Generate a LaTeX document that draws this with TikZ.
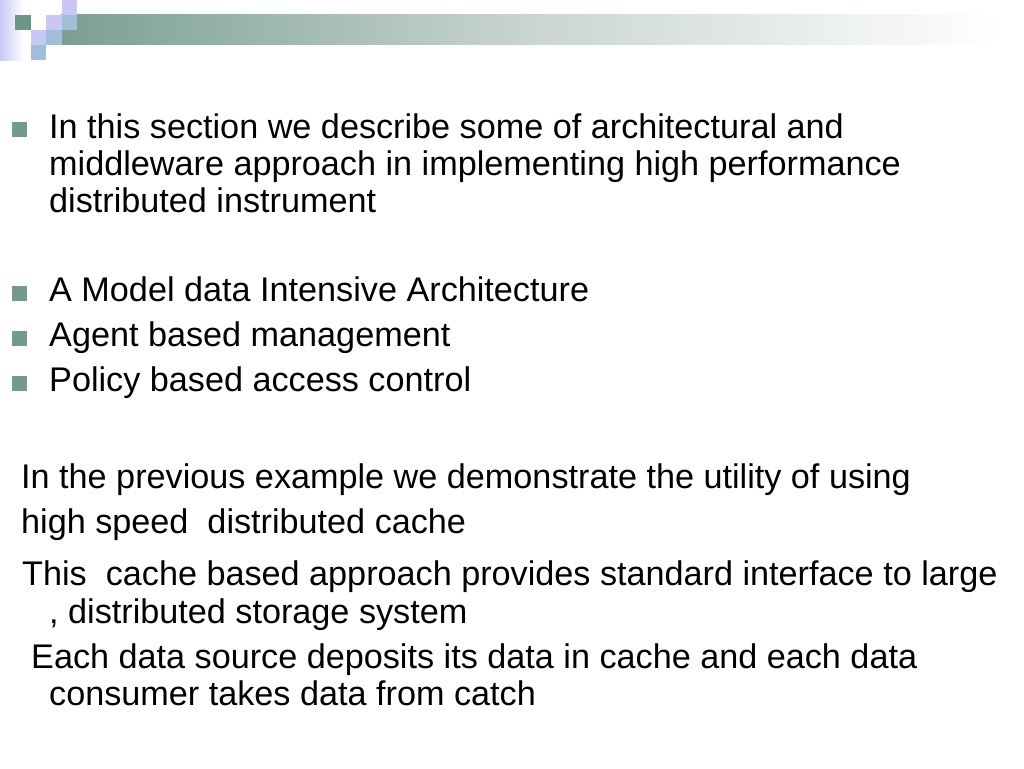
\documentclass[tikz,border=0pt]{standalone}
\usepackage{fontspec}
\setmainfont{Liberation Sans}
\definecolor{lav}{RGB}{200,200,245}
\definecolor{dgreen}{RGB}{110,150,135}
\definecolor{bgray}{RGB}{160,190,215}
\definecolor{barA}{RGB}{122,160,146}
\definecolor{barB}{RGB}{200,212,206}
\definecolor{bul}{RGB}{115,155,140}
\tikzset{
  txt/.style={anchor=base west, inner sep=0pt, font=\fontsize{34.2}{37}\selectfont},
  bulletsq/.style={fill=bul, draw=none}
}
\begin{document}
\begin{tikzpicture}[x=1pt,y=-1pt]
\useasboundingbox (0,0) rectangle (1024,768);
\fill[white] (0,0) rectangle (1024,768);
% decoration
\shade[left color=lav, right color=white, draw=none] (0,0) rectangle (24,60);
\shade[left color=barA, right color=barB, draw=none] (61,15) rectangle (521,45);
\shade[left color=barB, right color=white, draw=none] (520,15) rectangle (1000,45);
\fill[dgreen] (15,15) rectangle (31,30);
\fill[lav] (62,0) rectangle (77,15);
\fill[lav] (46,15) rectangle (62,30);
\fill[bgray] (62,15) rectangle (77,30);
\fill[lav] (31,30) rectangle (46,45);
\fill[bgray] (46,30) rectangle (62,45);
\fill[bgray] (31,45) rectangle (46,60);
% bullets
\fill[bulletsq] (12,122) rectangle (27,137);
\fill[bulletsq] (12,286) rectangle (27,301);
\fill[bulletsq] (12,331) rectangle (27,346);
\fill[bulletsq] (12,376) rectangle (27,391);
% text
\node[txt] (l1) at (49,138) {In this section we describe some of architectural and};
\node[txt] (l2) at (49,175) {middleware approach in implementing high performance};
\node[txt] (l3) at (49,212) {distributed instrument};
\node[txt] (b1) at (49,301) {A Model data Intensive Architecture};
\node[txt] (b2) at (49,346) {Agent based management};
\node[txt] (b3) at (49,391) {Policy based access control};
\node[txt] (p1) at (21,488) {In the previous example we demonstrate the utility of using};
\node[txt] (p2) at (21,533) {high speed\ \ distributed cache};
\node[txt] (p3) at (22,585) {This\ \ cache based approach provides standard interface to large};
\node[txt] (p4) at (49,623) {, distributed storage system};
\node[txt] (p5) at (31,668) {Each data source deposits its data in cache and each data};
\node[txt] (p6) at (49,705) {consumer takes data from catch};
\end{tikzpicture}
\end{document}
